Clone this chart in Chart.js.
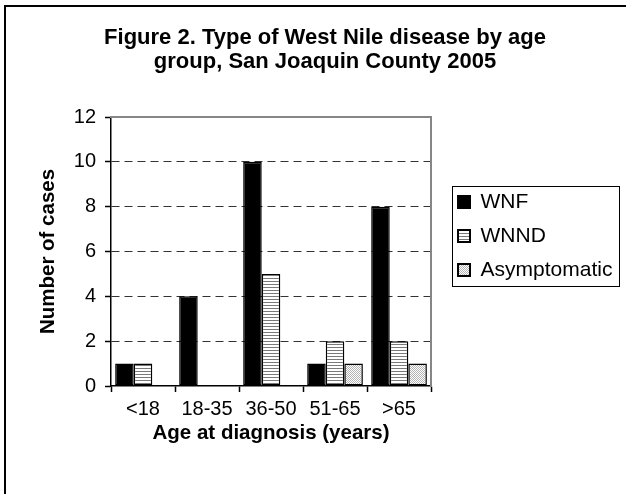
<!DOCTYPE html>
<html><head><meta charset="utf-8">
<script src="https://cdn.jsdelivr.net/npm/chart.js@4/dist/chart.umd.min.js"></script>
<style>
html,body{margin:0;padding:0;background:#fff;}
#wrap{position:relative;width:626px;height:494px;overflow:hidden;}
#frame{position:absolute;left:4px;top:5px;width:640px;height:500px;border-top:2px solid #000;border-left:2px solid #000;box-sizing:border-box;pointer-events:none;}
canvas{position:absolute;left:0;top:0;}
</style></head><body>
<div id="wrap"><canvas id="c" width="626" height="494"></canvas><div id="frame"></div></div>
<script>
const categories = ['<18', '18-35', '36-50', '51-65', '>65'];
const wnf = [1, 4, 10, 1, 8];
const wnnd = [1, 0, 5, 2, 2];
const asymptomatic = [0, 0, 0, 1, 1];
const seriesNames = ['WNF', 'WNND', 'Asymptomatic'];
const titleLines = ['Figure 2. Type of West Nile disease by age', 'group, San Joaquin County 2005'];
const yTitle = 'Number of cases';
const xTitle = 'Age at diagnosis (years)';
const yMin = 0, yMax = 12, yStep = 2;

const FONT = "'Liberation Sans', Arial, Helvetica, sans-serif";
const canvas = document.getElementById('c');
const ctx = canvas.getContext('2d');

function stripePattern() {
  const c = document.createElement('canvas'); c.width = 4; c.height = 3;
  const x = c.getContext('2d');
  x.fillStyle = '#ffffff'; x.fillRect(0, 0, 4, 3);
  x.fillStyle = '#7a7a7a'; x.fillRect(0, 2, 4, 1);
  return ctx.createPattern(c, 'repeat');
}
function dotPattern() {
  const c = document.createElement('canvas'); c.width = 2; c.height = 2;
  const x = c.getContext('2d');
  x.fillStyle = '#ffffff'; x.fillRect(0, 0, 2, 2);
  x.fillStyle = '#b4b4b4'; x.fillRect(0, 0, 1, 1); x.fillRect(1, 1, 1, 1);
  return ctx.createPattern(c, 'repeat');
}

const legendShift = {
  id: 'legendShift',
  afterLayout(chart) {
    const l = chart.legend;
    if (l) { l.top -= 14; l.bottom -= 14; }
  },
  afterDraw(chart) {
    const l = chart.legend;
    if (!l) return;
    const mid = (l.top + l.bottom) / 2;
    const c = chart.ctx;
    const x0 = Math.round(l.left + 7) + 0.5;
    const x1 = Math.round(l.right - 3) + 0.5;
    c.save();
    c.strokeStyle = '#000';
    c.lineWidth = 1;
    c.strokeRect(x0, Math.round(mid - 50) + 0.5, x1 - x0, 100);
    c.restore();
  }
};

new Chart(ctx, {
  type: 'bar',
  data: {
    labels: categories,
    datasets: [
      { label: seriesNames[0], data: wnf, backgroundColor: '#000000', borderColor: '#000', borderWidth: 1.5, borderSkipped: false },
      { label: seriesNames[1], data: wnnd, backgroundColor: stripePattern(), borderColor: '#000', borderWidth: 1.5, borderSkipped: false },
      { label: seriesNames[2], data: asymptomatic, backgroundColor: dotPattern(), borderColor: '#000', borderWidth: 1.5, borderSkipped: false }
    ]
  },
  options: {
    responsive: false,
    animation: false,
    events: [],
    categoryPercentage: 0.87,
    barPercentage: 1.0,
    layout: { padding: { left: 27.6, right: 3.6, top: 6, bottom: 0 } },
    plugins: {
      tooltip: { enabled: false },
      title: {
        display: true,
        text: titleLines,
        color: '#000',
        font: { family: FONT, size: 22, weight: 'bold', lineHeight: 1.1 },
        padding: { top: 20, bottom: 42.6 }
      },
      legend: {
        display: true,
        position: 'right',
        align: 'center',
        maxWidth: 220,
        labels: {
          color: '#000',
          font: { family: FONT, size: 21 },
          boxWidth: 12,
          boxHeight: 12,
          padding: 13,
          generateLabels(chart) {
            const items = Chart.defaults.plugins.legend.labels.generateLabels(chart);
            items.forEach(it => { it.lineWidth = 2; it.strokeStyle = '#000'; });
            return items;
          }
        }
      }
    },
    scales: {
      x: {
        type: 'category',
        position: 'bottom',
        grid: { display: true, offset: true, drawOnChartArea: false, drawTicks: true, tickLength: 6, tickColor: '#000', tickWidth: 1.5 },
        border: { display: true, color: '#000', width: 1.5 },
        ticks: { color: '#000', font: { family: FONT, size: 20, lineHeight: 1.2 }, padding: 5, maxRotation: 0, autoSkip: false },
        title: { display: true, text: xTitle, color: '#000', font: { family: FONT, size: 20.5, weight: 'bold', lineHeight: 1 }, padding: { top: 0, bottom: 50.75 } },
        afterFit(s) { s.height = 108; }
      },
      y: {
        type: 'linear',
        position: 'left',
        min: yMin, max: yMax,
        grid: {
          display: true,
          drawOnChartArea: true,
          drawTicks: true,
          tickLength: 6,
          tickColor: '#000',
          tickWidth: 1.5,
          lineWidth: 1,
          color: (c) => (c.tick && (c.tick.value === yMin || c.tick.value === yMax)) ? 'rgba(0,0,0,0)' : '#333'
        },
        border: { display: true, color: '#000', width: 1.5, dash: [8, 5] },
        ticks: { stepSize: yStep, color: '#000', font: { family: FONT, size: 20 }, padding: 9 },
        title: { display: true, text: yTitle, color: '#000', font: { family: FONT, size: 20.5, weight: 'bold', lineHeight: 1 }, padding: { top: 10, bottom: 0 } },
        afterFit(s) { s.width = 83.4; }
      },
      xTop: {
        type: 'linear',
        axis: 'x',
        position: 'top',
        display: true,
        grid: { display: true, drawOnChartArea: false, drawTicks: false },
        border: { display: true, color: '#868686', width: 2 },
        ticks: { display: false },
        afterFit(s) { s.height = 0; }
      },
      yRight: {
        type: 'linear',
        axis: 'y',
        position: 'right',
        display: true,
        grid: { display: true, drawOnChartArea: false, drawTicks: false },
        border: { display: true, color: '#868686', width: 2 },
        ticks: { display: false },
        afterFit(s) { s.width = 14; }
      }
    }
  },
  plugins: [legendShift]
});
</script>
</body></html>
